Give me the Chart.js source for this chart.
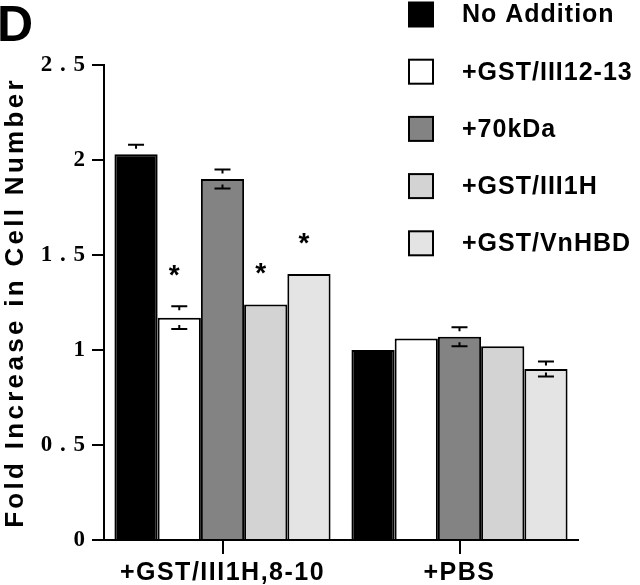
<!DOCTYPE html>
<html><head><meta charset="utf-8">
<script src="https://cdn.jsdelivr.net/npm/chart.js@4/dist/chart.umd.min.js"></script>
<style>html,body{margin:0;padding:0;background:#fff}#wrap{width:640px;height:585px}</style>
</head><body><div id="wrap"><canvas id="c" width="640" height="585"></canvas></div>
<script>
const categories = ['+GST/III1H,8-10', '+PBS'];
const seriesNames = ['No Addition', '+GST/III12-13', '+70kDa', '+GST/III1H', '+GST/VnHBD'];
const noAddition = [2.03, 1.00];
const gst1213 = [1.17, 1.06];
const kda70 = [1.90, 1.07];
const gst1h = [1.24, 1.02];
const vnhbd = [1.40, 0.90];
const noAdditionErr = [0.05, 0];
const gst1213Err = [0.06, 0];
const kda70Err = [0.05, 0.05];
const gst1hErr = [0, 0];
const vnhbdErr = [0, 0.04];
const noAdditionSig = [false, false];
const gst1213Sig = [true, false];
const kda70Sig = [false, false];
const gst1hSig = [true, false];
const vnhbdSig = [true, false];
const yTickLabels = ['0', '0 . 5', '1', '1 . 5', '2', '2 . 5'];
const panelLabel = 'D';
const yTitle = 'Fold Increase in Cell Number';

const colors = ['#000000', '#ffffff', '#838383', '#d3d3d3', '#e4e4e4'];
const values = [noAddition, gst1213, kda70, gst1h, vnhbd];
const errs = [noAdditionErr, gst1213Err, kda70Err, gst1hErr, vnhbdErr];
const sigs = [noAdditionSig, gst1213Sig, kda70Sig, gst1hSig, vnhbdSig];

function wrapSpacing(s, m, sp) {
  if (s['_w' + m]) return;
  const o = s[m];
  s[m] = function (...a) { this.ctx.save(); this.ctx.letterSpacing = sp; o.apply(this, a); this.ctx.restore(); };
  s['_w' + m] = true;
}

const extras = {
  id: 'extras',
  afterUpdate(chart) {
    wrapSpacing(chart.scales.y, 'drawTitle', '3.3px');
    wrapSpacing(chart.scales.y, 'drawLabels', '1px');
    wrapSpacing(chart.scales.x, 'drawLabels', '1.5px');
  },
  afterDatasetsDraw(chart) {
    const ctx = chart.ctx, ys = chart.scales.y;
    ctx.save();
    ctx.strokeStyle = '#000';
    ctx.lineWidth = 2;
    chart.data.datasets.forEach((ds, i) => {
      const meta = chart.getDatasetMeta(i);
      meta.data.forEach((el, j) => {
        const v = ds.data[j], e = ds.err[j];
        const x = el.x;
        if (e > 0) {
          const yt = ys.getPixelForValue(v + e), yb = ys.getPixelForValue(v - e);
          ctx.beginPath();
          ctx.moveTo(x - 8, yt); ctx.lineTo(x + 8, yt);
          ctx.moveTo(x, yt); ctx.lineTo(x, yt + 4);
          ctx.moveTo(x - 8, yb); ctx.lineTo(x + 8, yb);
          ctx.moveTo(x, yb); ctx.lineTo(x, yb - 4);
          ctx.stroke();
        }
        if (ds.sig[j]) {
          const ys0 = ys.getPixelForValue(v + e);
          ctx.fillStyle = '#000';
          ctx.font = 'bold 28px "Liberation Sans"';
          ctx.textAlign = 'center';
          ctx.textBaseline = 'middle';
          ctx.fillText('*', x - 5, ys0 - 30);
        }
      });
    });
    ctx.restore();
  },
  afterDraw(chart) {
    const ctx = chart.ctx;
    ctx.save();
    ctx.fillStyle = '#000';
    ctx.font = 'bold 50px "Liberation Sans"';
    ctx.textAlign = 'left';
    ctx.textBaseline = 'alphabetic';
    ctx.fillText(panelLabel, -3, 41);
    chart.data.datasets.forEach((ds, i) => {
      const cy = 14.5 + 57.2 * i;
      ctx.fillStyle = ds.backgroundColor;
      ctx.fillRect(409, cy - 12, 24, 24);
      ctx.strokeStyle = '#000';
      ctx.lineWidth = 2;
      ctx.strokeRect(409, cy - 12, 24, 24);
      ctx.fillStyle = '#000';
      ctx.font = 'bold 25px "Liberation Sans"';
      ctx.letterSpacing = '1px';
      ctx.textBaseline = 'middle';
      ctx.fillText(ds.label, 462, cy + 1);
      ctx.letterSpacing = '0px';
    });
    ctx.restore();
  }
};

const datasets = seriesNames.map((n, i) => ({
  label: n,
  data: values[i],
  err: errs[i],
  sig: sigs[i],
  backgroundColor: colors[i],
  borderColor: '#000',
  borderWidth: 2,
  borderSkipped: 'start',
  categoryPercentage: 0.912,
  barPercentage: 1.0
}));

new Chart(document.getElementById('c'), {
  type: 'bar',
  data: { labels: categories, datasets },
  plugins: [extras],
  options: {
    responsive: false,
    animation: false,
    devicePixelRatio: 1,
    layout: { padding: { top: 65, right: 62, left: 0, bottom: 0 } },
    plugins: { legend: { display: false }, tooltip: { enabled: false }, title: { display: false } },
    scales: {
      x: {
        offset: true,
        grid: { offset: false, drawOnChartArea: false, drawTicks: true, tickLength: 14, color: '#000', lineWidth: 2 },
        border: { color: '#000', width: 2 },
        ticks: { color: '#000', font: { family: 'Liberation Sans', size: 25, weight: 'bold' }, padding: 4, maxRotation: 0, autoSkip: false },
        afterFit(s) { s.height = 45; }
      },
      y: {
        min: 0, max: 2.5,
        ticks: { stepSize: 0.5, color: '#000', font: { family: 'Liberation Serif', size: 23, weight: 'bold' }, padding: 6, callback: (v, i) => yTickLabels[i] },
        grid: { drawOnChartArea: false, drawTicks: true, tickLength: 12, color: '#000', lineWidth: 2 },
        border: { color: '#000', width: 2 },
        title: { display: true, text: yTitle, color: '#000', font: { family: 'Liberation Sans', size: 26, weight: 'bold' }, padding: 0 },
        afterFit(s) { s.width = 104; }
      }
    }
  }
});
</script></body></html>
